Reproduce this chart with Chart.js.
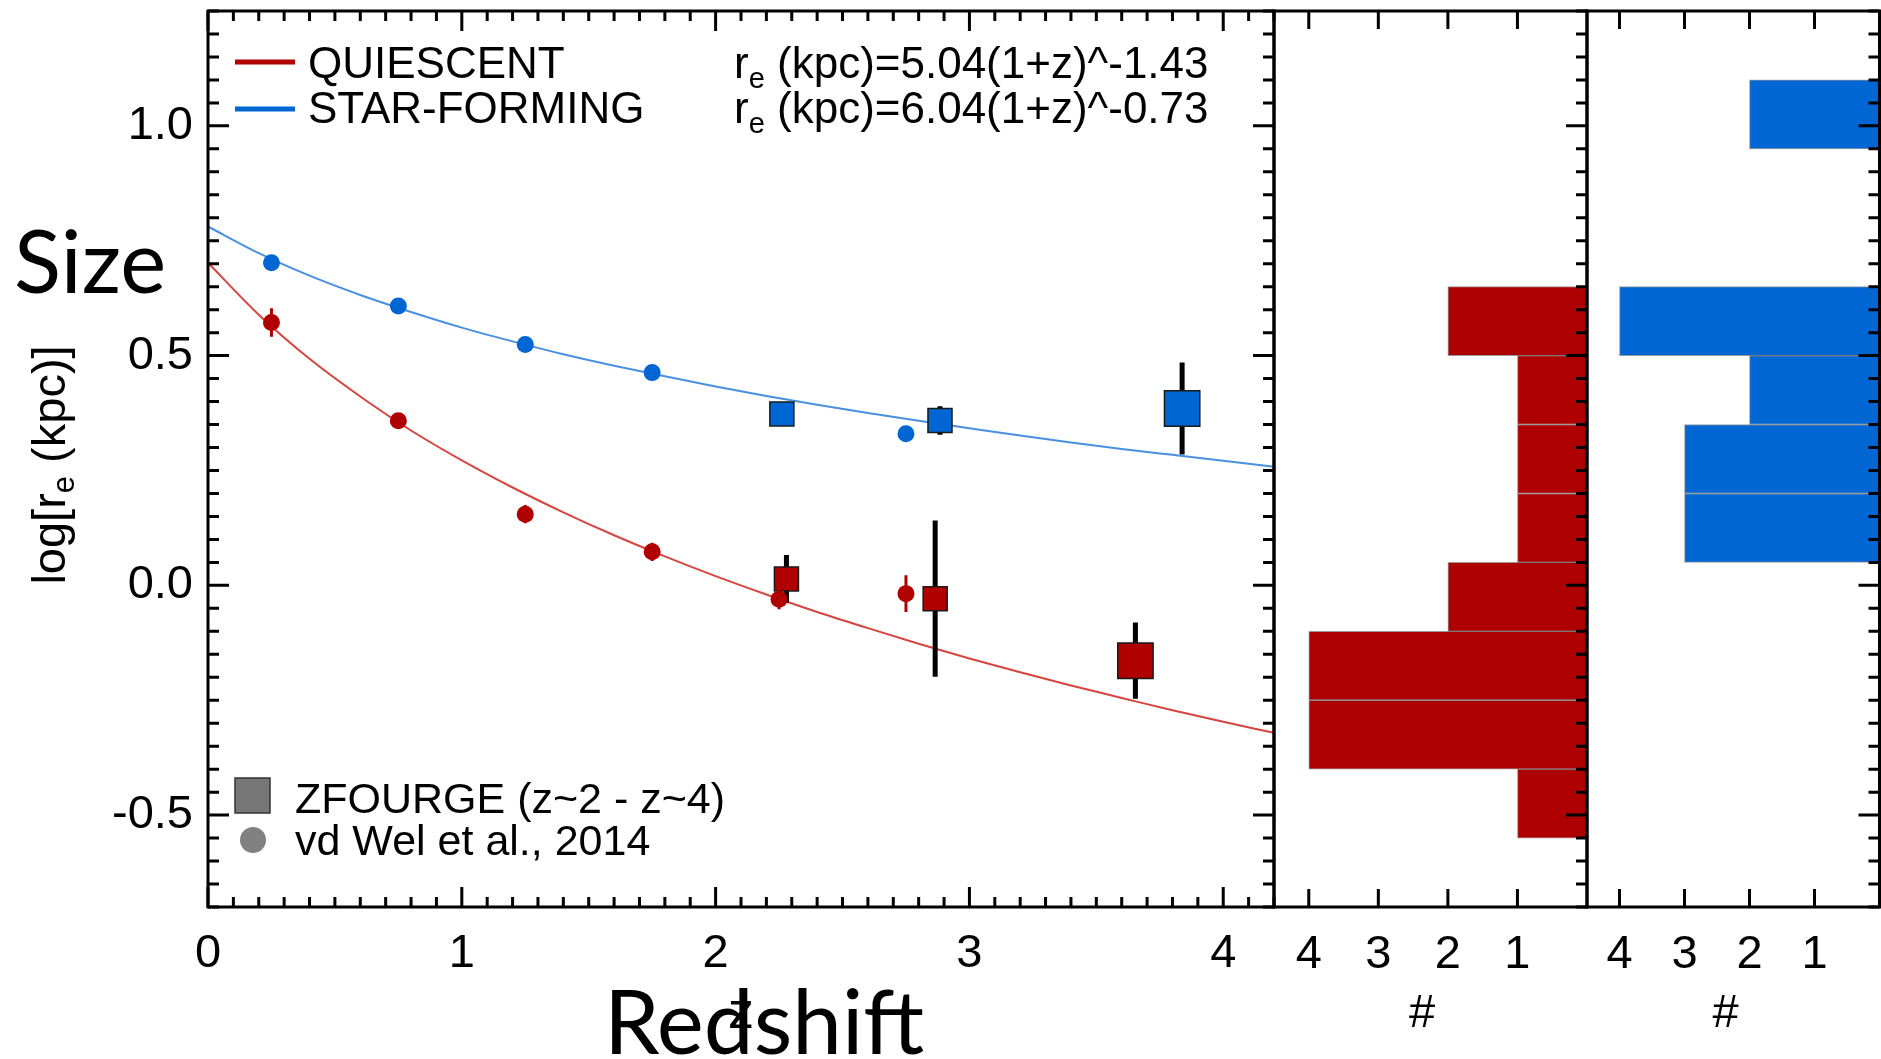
<!DOCTYPE html>
<html>
<head>
<meta charset="utf-8">
<title>Size evolution</title>
<script src="https://cdn.jsdelivr.net/npm/chart.js@4.4.1/dist/chart.umd.min.js"></script>
<style>
  body { margin: 0; background: #fff; }
  #stage { position: relative; width: 1881px; height: 1059px; overflow: hidden; background: #fff; }
  #stage canvas { position: absolute; left: 0; top: 0; }
  .big { position: absolute; font-family: Lato, 'Open Sans', sans-serif; line-height: 1; color: #000; white-space: nowrap; z-index: 5; }
</style>
</head>
<body>
<div id="stage">
  <canvas id="sizeChart" width="1881" height="1059"></canvas>
  <canvas id="qHist" width="1881" height="1059"></canvas>
  <canvas id="sfHist" width="1881" height="1059"></canvas>
  <div class="big" style="left:14px; top:216px; font-size:87px;">Size</div>
  <div class="big" style="left:604px; top:975px; font-size:89px;">Redshift</div>
</div>
<script>
// --- fit curves, sampled every 0.2 in z ---
const fitZ = [0, 0.2, 0.4, 0.6, 0.8, 1.0, 1.2, 1.4, 1.6, 1.8, 2.0, 2.2, 2.4, 2.6, 2.8, 3.0, 3.2, 3.4, 3.6, 3.8, 4.0, 4.2];
const qFit = [0.702, 0.589, 0.493, 0.411, 0.337, 0.272, 0.213, 0.159, 0.109, 0.063, 0.020, -0.020, -0.058, -0.093, -0.127, -0.159, -0.189, -0.218, -0.245, -0.272, -0.297, -0.321];
const sfFit = [0.781, 0.723, 0.674, 0.632, 0.595, 0.561, 0.531, 0.503, 0.478, 0.455, 0.433, 0.412, 0.393, 0.375, 0.358, 0.342, 0.326, 0.311, 0.297, 0.284, 0.271, 0.258];

// --- vd Wel et al. 2014 points ---
const vdwQz = [0.25, 0.75, 1.25, 1.75, 2.25, 2.75];
const vdwQ = [0.572, 0.358, 0.155, 0.073, -0.030, -0.018];
const vdwQerr = [0.031, 0.012, 0.020, 0.020, 0.022, 0.040];
const vdwSFz = [0.25, 0.75, 1.25, 1.75, 2.75];
const vdwSF = [0.702, 0.608, 0.524, 0.463, 0.330];

// --- ZFOURGE points ---
const zfQz = [2.279, 2.865, 3.654];
const zfQ = [0.014, -0.029, -0.164];
const zfQerr = [0.052, 0.170, 0.083];
const zfSFz = [2.261, 2.884, 3.838];
const zfSF = [0.373, 0.359, 0.385];
const zfSFerr = [0.005, 0.031, 0.100];

// --- histograms of log size, bins of 0.15 starting at the lower edge ---
const binLow = [-0.70, -0.55, -0.40, -0.25, -0.10, 0.05, 0.20, 0.35, 0.50, 0.65, 0.80, 0.95, 1.10];
const qCounts = [0, 1, 4, 4, 2, 1, 1, 1, 2, 0, 0, 0, 0];
const sfCounts = [0, 0, 0, 0, 0, 3, 3, 2, 4, 0, 0, 2, 0];

// --- tick labels ---
const zTicks = [0, 1, 2, 3, 4];
const sizeTicks = [-0.5, 0.0, 0.5, 1.0];
const countTicks = [1, 2, 3, 4];

const Y_MIN = -0.7, Y_MAX = 1.25;
const FONT = "'Liberation Sans', Arial, Helvetica, sans-serif";
const RED = '#b00000';
const BLUE = '#0066d4';

Chart.defaults.font.family = FONT;
Chart.defaults.color = '#000';

const toPts = (xs, ys) => xs.map((x, i) => ({ x: x, y: ys[i] }));

// vertical error bars as broken line segments
function errorSegments(zs, vals, errs) {
  const pts = [];
  zs.forEach((z, i) => {
    pts.push({ x: z, y: vals[i] - errs[i] }, { x: z, y: vals[i] + errs[i] }, { x: z, y: null });
  });
  return pts;
}

// IDL style inward ticks, minor ticks generated on the fly
const yTickMarks = [];
for (let i = -14; i <= 25; i++) yTickMarks.push([Math.round(i * 5) / 100, i % 10 === 0 ? 21 : 11]);
const zTickMarks = [];
for (let i = 0; i <= 42; i++) zTickMarks.push([i / 10, i % 10 === 0 ? 20 : 10]);

const frameTicks = {
  id: 'frameTicks',
  afterDatasetsDraw(chart, args, o) {
    const { ctx, chartArea: a } = chart;
    const xs = chart.scales.x;
    // all panels share the same log size range on y
    const yPix = v => a.bottom - (v - Y_MIN) / (Y_MAX - Y_MIN) * (a.bottom - a.top);
    ctx.save();
    ctx.strokeStyle = '#000';
    ctx.lineWidth = 3;
    ctx.beginPath();
    (o.xTicks || []).forEach(([v, len]) => {
      const px = xs.getPixelForValue(v);
      ctx.moveTo(px, a.bottom); ctx.lineTo(px, a.bottom - len);
      ctx.moveTo(px, a.top); ctx.lineTo(px, a.top + len);
    });
    (o.yTicks || []).forEach(([v, len]) => {
      const py = yPix(v);
      if (o.left) { ctx.moveTo(a.left, py); ctx.lineTo(a.left + len, py); }
      if (o.right) { ctx.moveTo(a.right, py); ctx.lineTo(a.right - len, py); }
    });
    ctx.stroke();
    ctx.strokeRect(a.left, a.top, a.right - a.left, a.bottom - a.top);
    ctx.restore();
  }
};

// text runs with subscripts: [text, size, dy]
function drawRuns(ctx, x, y, runs) {
  let cx = x;
  runs.forEach(([t, size, dy]) => {
    ctx.font = size + 'px ' + FONT;
    ctx.fillText(t, cx, y + dy);
    cx += ctx.measureText(t).width;
  });
  return cx - x;
}
function runsWidth(ctx, runs) {
  let w = 0;
  runs.forEach(([t, size]) => { ctx.font = size + 'px ' + FONT; w += ctx.measureText(t).width; });
  return w;
}

const sizeLabels = {
  id: 'sizeLabels',
  afterDraw(chart) {
    const ctx = chart.ctx;
    ctx.save();
    ctx.fillStyle = '#000';
    ctx.textBaseline = 'alphabetic';
    ctx.textAlign = 'left';

    // line legend
    ctx.lineWidth = 5;
    ctx.strokeStyle = RED;
    ctx.beginPath(); ctx.moveTo(235, 62); ctx.lineTo(295, 62); ctx.stroke();
    ctx.strokeStyle = BLUE;
    ctx.beginPath(); ctx.moveTo(235, 109); ctx.lineTo(295, 109); ctx.stroke();
    drawRuns(ctx, 308, 78, [['QUIESCENT', 44, 0]]);
    drawRuns(ctx, 308, 123, [['STAR-FORMING', 44, 0]]);

    // fitted relations
    drawRuns(ctx, 734, 78, [['r', 44, 0], ['e', 29, 10], [' (kpc)=5.04(1+z)^-1.43', 44, 0]]);
    drawRuns(ctx, 734, 123, [['r', 44, 0], ['e', 29, 10], [' (kpc)=6.04(1+z)^-0.73', 44, 0]]);

    // symbol legend
    ctx.fillStyle = '#777';
    ctx.strokeStyle = '#333';
    ctx.lineWidth = 1.5;
    ctx.fillRect(235, 778, 35, 35);
    ctx.strokeRect(235, 778, 35, 35);
    ctx.fillStyle = '#808080';
    ctx.beginPath(); ctx.arc(253, 840, 13, 0, Math.PI * 2); ctx.fill();
    ctx.fillStyle = '#000';
    drawRuns(ctx, 295, 813, [['ZFOURGE (z~2 - z~4)', 43, 0]]);
    drawRuns(ctx, 295, 855, [['vd Wel et al., 2014', 43, 0]]);

    // axis titles
    ctx.font = '52px ' + FONT;
    ctx.textAlign = 'center';
    ctx.fillText('z', 741, 1028);
    ctx.textAlign = 'left';
    const yTitle = [['log[r', 47, 0], ['e', 31, 9], [' (kpc)]', 47, 0]];
    ctx.translate(65, 465);
    ctx.rotate(-Math.PI / 2);
    drawRuns(ctx, -runsWidth(ctx, yTitle) / 2, 0, yTitle);
    ctx.restore();
  }
};

const histTitle = {
  id: 'histTitle',
  afterDraw(chart) {
    const ctx = chart.ctx;
    ctx.save();
    ctx.fillStyle = '#000';
    ctx.font = '47px ' + FONT;
    ctx.textAlign = 'center';
    ctx.fillText('#', chart.scales.x.getPixelForValue(2.37), 1027);
    ctx.restore();
  }
};

new Chart(document.getElementById('sizeChart'), {
  type: 'scatter',
  data: {
    datasets: [
      { data: toPts(vdwQz, vdwQ), pointStyle: 'circle', pointRadius: 8.5, backgroundColor: RED, borderWidth: 0, order: 1 },
      { data: toPts(vdwSFz, vdwSF), pointStyle: 'circle', pointRadius: 8.5, backgroundColor: BLUE, borderWidth: 0, order: 1 },
      { data: errorSegments(vdwQz, vdwQ, vdwQerr), showLine: true, spanGaps: false, pointRadius: 0, borderColor: RED, borderWidth: 3, order: 2 },
      { data: toPts(zfQz, zfQ), pointStyle: 'rect', pointRadius: [17, 17, 25], backgroundColor: RED, borderColor: '#1a1a1a', borderWidth: 1.5, order: 3 },
      { data: toPts(zfSFz, zfSF), pointStyle: 'rect', pointRadius: [17, 17, 25], backgroundColor: BLUE, borderColor: '#1a1a1a', borderWidth: 1.5, order: 3 },
      { data: errorSegments(zfQz, zfQ, zfQerr), showLine: true, spanGaps: false, pointRadius: 0, borderColor: '#000', borderWidth: 5, order: 4 },
      { data: errorSegments(zfSFz, zfSF, zfSFerr), showLine: true, spanGaps: false, pointRadius: 0, borderColor: '#000', borderWidth: 5, order: 4 },
      { data: toPts(fitZ, qFit), showLine: true, pointRadius: 0, borderColor: '#d8443e', borderWidth: 2, cubicInterpolationMode: 'monotone', order: 5 },
      { data: toPts(fitZ, sfFit), showLine: true, pointRadius: 0, borderColor: '#4a90e2', borderWidth: 2, cubicInterpolationMode: 'monotone', order: 5 }
    ]
  },
  options: {
    responsive: false,
    animation: false,
    devicePixelRatio: 1,
    events: [],
    // big square markers would otherwise add their radius as padding
    layout: { autoPadding: false, padding: { top: 11, right: 607, left: 0, bottom: 0 } },
    scales: {
      x: {
        type: 'linear', min: 0, max: 4.2,
        grid: { display: false, drawTicks: false },
        border: { display: false },
        afterBuildTicks: s => { s.ticks = zTicks.map(v => ({ value: v })); },
        ticks: { font: { size: 47 }, padding: 19, color: '#000', callback: v => String(v) },
        afterFit: s => { s.height = 152; s.paddingLeft = 0; s.paddingRight = 0; }
      },
      y: {
        type: 'linear', min: Y_MIN, max: Y_MAX,
        grid: { display: false, drawTicks: false },
        border: { display: false },
        afterBuildTicks: s => { s.ticks = sizeTicks.map(v => ({ value: v })); },
        ticks: { font: { size: 47, lineHeight: 0.3 }, padding: 15, color: '#000', callback: v => v.toFixed(1) },
        afterFit: s => { s.width = 208; s.paddingTop = 0; s.paddingBottom = 0; }
      }
    },
    plugins: {
      legend: { display: false },
      tooltip: { enabled: false },
      frameTicks: { xTicks: zTickMarks, yTicks: yTickMarks, left: true, right: true }
    }
  },
  plugins: [frameTicks, sizeLabels]
});

function histChart(id, counts, color, edge, padLeft, padRight) {
  return new Chart(document.getElementById(id), {
    type: 'bar',
    data: {
      labels: binLow.map(v => v.toFixed(2)),
      datasets: [{
        data: counts,
        backgroundColor: color,
        borderColor: edge,
        borderWidth: 1,
        borderSkipped: false,
        categoryPercentage: 1,
        barPercentage: 1
      }]
    },
    options: {
      indexAxis: 'y',
      responsive: false,
      animation: false,
      devicePixelRatio: 1,
      events: [],
      layout: { autoPadding: false, padding: { top: 11, left: padLeft, right: padRight, bottom: 0 } },
      scales: {
        x: {
          type: 'linear', min: 0, max: 4.5, reverse: true,
          grid: { display: false, drawTicks: false },
          border: { display: false },
          afterBuildTicks: s => { s.ticks = countTicks.map(v => ({ value: v })); },
          ticks: { font: { size: 47 }, padding: 20, color: '#000' },
          afterFit: s => { s.height = 152; s.paddingLeft = 0; s.paddingRight = 0; }
        },
        y: {
          type: 'category', reverse: true, offset: true,
          grid: { display: false, drawTicks: false },
          border: { display: false },
          ticks: { display: false },
          afterFit: s => { s.width = 0; s.paddingTop = 0; s.paddingBottom = 0; }
        }
      },
      plugins: {
        legend: { display: false },
        tooltip: { enabled: false },
        frameTicks: { xTicks: countTicks.map(v => [v, 18]), yTicks: yTickMarks, left: false, right: true }
      }
    },
    plugins: [frameTicks, histTitle]
  });
}

histChart('qHist', qCounts, '#ae0000', 'rgba(0,0,0,0.4)', 1274, 294);
histChart('sfHist', sfCounts, '#0066d4', 'rgba(0,0,0,0.4)', 1587, 1.5);
</script>
</body>
</html>
